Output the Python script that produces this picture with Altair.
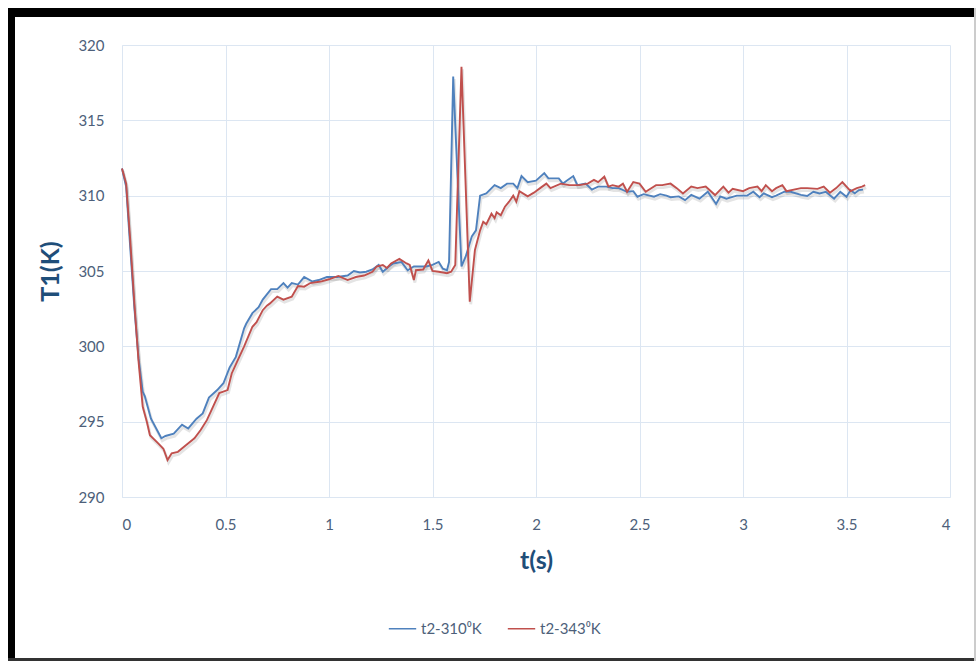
import altair as alt
import pandas as pd

# ---- data ----
series_names = ["t2-310⁰K", "t2-343⁰K"]

t_blue = [0, 0.02, 0.04, 0.06, 0.08, 0.10, 0.11, 0.14, 0.19, 0.21, 0.25, 0.29, 0.32, 0.36, 0.39,
          0.42, 0.46, 0.49, 0.52, 0.55, 0.59, 0.60, 0.63, 0.66, 0.68, 0.72, 0.75, 0.78, 0.80, 0.82,
          0.85, 0.88, 0.92, 0.95, 0.99, 1.04, 1.09, 1.12, 1.15, 1.18, 1.21, 1.24, 1.26, 1.29, 1.31,
          1.35, 1.38, 1.41, 1.44, 1.47, 1.50, 1.53, 1.55, 1.57, 1.58, 1.60, 1.62, 1.64, 1.66, 1.69,
          1.71, 1.73, 1.76, 1.80, 1.83, 1.86, 1.89, 1.91, 1.93, 1.96, 2.00, 2.04, 2.06, 2.11, 2.13,
          2.15, 2.18, 2.20, 2.24, 2.27, 2.30, 2.34, 2.37, 2.40, 2.44, 2.47, 2.49, 2.52, 2.57, 2.60,
          2.63, 2.65, 2.69, 2.72, 2.75, 2.79, 2.83, 2.87, 2.89, 2.92, 2.97, 3.02, 3.05, 3.08, 3.10,
          3.14, 3.16, 3.20, 3.23, 3.28, 3.31, 3.34, 3.37, 3.40, 3.44, 3.47, 3.50, 3.52, 3.54, 3.56,
          3.58]
T_blue = [311.8, 310.6, 306.5, 302.5, 299.2, 297.0, 296.7, 295.2, 293.9, 294.05, 294.2, 294.8,
          294.55, 295.2, 295.55, 296.6, 297.1, 297.55, 298.6, 299.3, 301.2, 301.5, 302.2, 302.6,
          303.1, 303.8, 303.8, 304.2, 303.9, 304.2, 304.1, 304.6, 304.3, 304.4, 304.6, 304.6,
          304.7, 305.0, 304.9, 304.95, 305.1, 305.4, 304.95, 305.3, 305.5, 305.6, 305.05, 305.3,
          305.3, 305.3, 305.4, 305.6, 305.15, 305.05, 305.6, 317.9, 311.5, 305.3, 305.95, 307.3,
          307.7, 310.0, 310.15, 310.7, 310.5, 310.8, 310.8, 310.5, 311.3, 310.9, 311.0, 311.5,
          311.15, 311.15, 310.8, 311.0, 311.3, 310.7, 310.8, 310.4, 310.6, 310.6, 310.5, 310.5,
          310.26, 310.3, 309.93, 310.1, 309.93, 310.1, 310.0, 309.9, 309.95, 309.7, 310.05, 309.8,
          310.26, 309.45, 309.95, 309.8, 310.0, 310.0, 310.26, 309.9, 310.15, 309.9, 310.0, 310.26,
          310.26, 310.05, 309.98, 310.26, 310.15, 310.26, 309.8, 310.26, 309.93, 310.37, 310.15,
          310.37, 310.4]

t_red = [0, 0.02, 0.04, 0.06, 0.08, 0.10, 0.12, 0.135, 0.175, 0.20, 0.22, 0.24, 0.27, 0.31, 0.35,
         0.38, 0.41, 0.44, 0.47, 0.51, 0.53, 0.56, 0.59, 0.63, 0.65, 0.68, 0.70, 0.715, 0.75, 0.78,
         0.82, 0.85, 0.88, 0.91, 0.96, 1.00, 1.045, 1.09, 1.13, 1.17, 1.21, 1.23, 1.26, 1.28, 1.30,
         1.34, 1.375, 1.39, 1.41, 1.42, 1.455, 1.48, 1.50, 1.53, 1.57, 1.59, 1.61, 1.64, 1.68,
         1.705, 1.73, 1.745, 1.76, 1.785, 1.80, 1.81, 1.83, 1.85, 1.87, 1.89, 1.905, 1.92, 1.96,
         1.99, 2.02, 2.05, 2.07, 2.12, 2.16, 2.21, 2.25, 2.28, 2.30, 2.33, 2.35, 2.37, 2.40, 2.42,
         2.44, 2.47, 2.50, 2.53, 2.58, 2.61, 2.65, 2.68, 2.71, 2.75, 2.78, 2.82, 2.865, 2.905, 2.93,
         2.95, 3.00, 3.03, 3.07, 3.09, 3.11, 3.14, 3.16, 3.19, 3.21, 3.28, 3.31, 3.36, 3.39, 3.42,
         3.45, 3.48, 3.50, 3.52, 3.55, 3.575, 3.59]
T_red = [311.8, 310.8, 307.0, 302.8, 299.0, 296.0, 295.0, 294.1, 293.56, 293.2, 292.45, 292.9,
         293.0, 293.45, 293.9, 294.45, 295.1, 296.0, 296.9, 297.1, 298.2, 299.1, 300.0, 301.3,
         301.6, 302.4, 302.7, 302.85, 303.3, 303.1, 303.3, 304.0, 303.96, 304.2, 304.3, 304.45,
         304.67, 304.4, 304.6, 304.7, 304.95, 305.3, 305.4, 305.2, 305.5, 305.8, 305.5, 305.4,
         304.4, 305.05, 305.1, 305.7, 305.0, 304.95, 304.85, 304.95, 305.4, 318.55, 302.96, 306.4,
         307.7, 308.27, 308.1, 308.8, 308.5, 308.9, 308.7, 309.27, 309.6, 310.0, 309.6, 310.3,
         309.95, 310.2, 310.5, 310.8, 310.5, 310.8, 310.7, 310.7, 310.8, 311.05, 310.9, 311.26,
         310.6, 310.7, 310.6, 310.8, 310.26, 310.9, 310.8, 310.26, 310.7, 310.7, 310.8, 310.5,
         310.15, 310.6, 310.5, 310.6, 310.04, 310.6, 310.2, 310.45, 310.3, 310.5, 310.6, 310.3,
         310.7, 310.3, 310.5, 310.7, 310.3, 310.5, 310.5, 310.45, 310.6, 310.2, 310.5, 310.9,
         310.6, 310.3, 310.5, 310.6, 310.7]

x_ticks = [0, 0.5, 1, 1.5, 2, 2.5, 3, 3.5, 4]
y_ticks = [290, 295, 300, 305, 310, 315, 320]

df = pd.concat([
    pd.DataFrame({"t": t_blue, "T": T_blue, "series": series_names[0], "order": range(len(t_blue))}),
    pd.DataFrame({"t": t_red, "T": T_red, "series": series_names[1], "order": range(len(t_red))}),
])

FONT = "Lato"
LABEL_COLOR = "#4d5f7a"
TITLE_COLOR = "#1f4e79"
GRID = "#dce6f2"

x_enc = alt.X("t:Q", scale=alt.Scale(domain=[0, 4], nice=False),
              axis=alt.Axis(values=x_ticks, format="~g", title="t(s)", grid=True,
                            gridColor=GRID, domainColor=GRID, tickSize=0,
                            labelPadding=20, labelFontSize=15, labelColor=LABEL_COLOR,
                            labelFont=FONT, titleFont=FONT, titleFontSize=25,
                            titleFontWeight="bold", titleColor=TITLE_COLOR, titlePadding=16))
y_enc = alt.Y("T:Q", scale=alt.Scale(domain=[290, 320], nice=False, zero=False),
              axis=alt.Axis(values=y_ticks, title="T1(K)", grid=True,
                            gridColor=GRID, domainColor=GRID, tickSize=0,
                            labelPadding=18, labelFontSize=15, labelColor=LABEL_COLOR,
                            labelFont=FONT, titleFont=FONT, titleFontSize=25,
                            titleFontWeight="bold", titleColor=TITLE_COLOR, titlePadding=14))

shadow = alt.Chart(df).mark_line(strokeWidth=2.8, opacity=0.16, color="#555555",
                                 xOffset=1, yOffset=2.5).encode(
    x=x_enc, y=y_enc, detail="series:N", order="order:Q")

lines = alt.Chart(df).mark_line(strokeWidth=1.9).encode(
    x=x_enc, y=y_enc, order="order:Q",
    color=alt.Color("series:N",
                    scale=alt.Scale(domain=series_names, range=["#4f81bd", "#c0504d"]),
                    legend=alt.Legend(title=None, orient="none", legendX=266, legendY=569,
                                      direction="horizontal", symbolType="stroke",
                                      symbolStrokeWidth=1.5, symbolSize=750,
                                      labelFont=FONT, labelFontSize=15,
                                      labelColor=LABEL_COLOR, columnPadding=22,
                                      labelOffset=4)))

one = pd.DataFrame({"a": [0]})
frame_top = alt.Chart(one).mark_rect(color="black").encode(
    x=alt.value(-114), x2=alt.value(854), y=alt.value(-37), y2=alt.value(-28))
frame_left = alt.Chart(one).mark_rect(color="black").encode(
    x=alt.value(-114), x2=alt.value(-107), y=alt.value(-37), y2=alt.value(616))
frame_bottom = alt.Chart(one).mark_rect(color="#333333").encode(
    x=alt.value(-114), x2=alt.value(854), y=alt.value(613), y2=alt.value(616))
frame_right = alt.Chart(one).mark_rect(color="#cccccc").encode(
    x=alt.value(852), x2=alt.value(854), y=alt.value(-37), y2=alt.value(616))

chart = alt.layer(shadow, lines, frame_top, frame_left, frame_bottom, frame_right).properties(
    width=828, height=452,
    autosize=alt.AutoSizeParams(type="none"),
    padding={"left": 122, "top": 45, "right": 26, "bottom": 164},
    background="white",
).configure_view(stroke=None)

chart.save("out.html", embed_options={"renderer": "svg", "actions": False})
